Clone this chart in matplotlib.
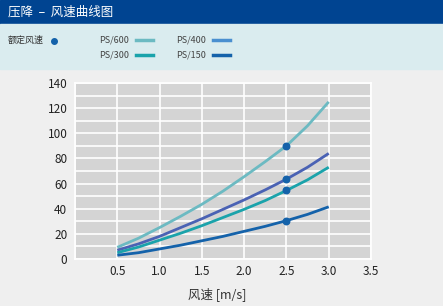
import matplotlib
matplotlib.use("Agg")
import matplotlib.pyplot as plt

plt.rcParams["font.family"] = ["Noto Sans CJK SC", "DejaVu Sans"]

title = "压降  –  风速曲线图"
rated_label = "额定风速"
x_label = "风速 [m/s]"

speed = [0.5, 0.75, 1.0, 1.25, 1.5, 1.75, 2.0, 2.25, 2.5, 2.75, 3.0]
ps600 = [9.3, 16.5, 25, 34, 43.5, 54, 65.5, 77.5, 90, 106, 125]
ps400 = [7, 12, 18, 25, 32, 39.5, 47, 55, 63.5, 73, 84]
ps300 = [5, 9.5, 15, 20.5, 26.5, 33, 39.5, 46.5, 54.5, 63, 73]
ps150 = [3, 5, 8, 11, 14.5, 18, 22, 26, 30.5, 35.5, 41.5]

rated_speed = 2.5
rated_drop = [90, 63.5, 54.5, 30.5]

series = [
    ("PS/600", ps600, "#6cbac2", "#6cbac2"),
    ("PS/400", ps400, "#4a62b4", "#4a8fd0"),
    ("PS/300", ps300, "#1aa3ab", "#1aa3ab"),
    ("PS/150", ps150, "#1462aa", "#1462aa"),
]

fig = plt.figure(figsize=(4.43, 3.06), dpi=100, facecolor="#efefef")

# header bar and legend band
fig.patches.append(plt.Rectangle((0, 1 - 24 / 306), 1, 24 / 306,
                                 transform=fig.transFigure, color="#004491", zorder=0))
fig.patches.append(plt.Rectangle((0, 1 - 69 / 306), 1, 45 / 306,
                                 transform=fig.transFigure, color="#daecef", zorder=0))
fig.text(8 / 443, 1 - 12.5 / 306, title, color="white", fontsize=9, va="center")

ax = fig.add_axes([75 / 443, 47 / 306, 296 / 443, 176 / 306])
ax.set_facecolor("#d4d4d4")
for name, vals, color, _ in series:
    ax.plot(speed, vals, color=color, lw=2, solid_capstyle="butt", zorder=3)
ax.scatter([rated_speed] * len(rated_drop), rated_drop, s=22, color="#1462aa", zorder=4)

ax.set_xlim(0, 3.5)
ax.set_ylim(0, 140)
ax.set_xticks([0, 0.5, 1.0, 1.5, 2.0, 2.5, 3.0, 3.5])
ax.set_xticklabels(["", "0.5", "1.0", "1.5", "2.0", "2.5", "3.0", "3.5"])
ax.set_yticks(range(0, 141, 20))
ax.set_yticks(range(0, 141, 10), minor=True)
ax.grid(True, which="both", color="white", lw=1.2)
ax.set_axisbelow(True)
ax.tick_params(which="both", length=0, labelsize=8.5, colors="#222222")
ax.tick_params(axis="y", pad=5.5)
ax.tick_params(axis="x", pad=4)
for s in ax.spines.values():
    s.set_color("white")
    s.set_linewidth(1.2)
ax.set_xlabel(x_label, fontsize=9, color="#333333", labelpad=7)
ax.xaxis.set_label_coords(0.48, -0.16)

# legend
fig.text(8 / 443, 1 - 40 / 306, rated_label, fontsize=6.5, color="#333333", va="center")
fig.lines.append(plt.Line2D([54 / 443], [1 - 40.5 / 306], marker="o", ms=4,
                            color="#1462aa", transform=fig.transFigure))
pos = [(99, 40), (176, 40), (99, 55), (176, 55)]
for (name, _, _, lcolor), (px, py) in zip(series, pos):
    fig.text(px / 443, 1 - py / 306, name, fontsize=6.5, color="#444444", va="center")
    fig.lines.append(plt.Line2D([(px + 37) / 443, (px + 54) / 443],
                                [1 - (py - 0.5) / 306] * 2, lw=2.5, color=lcolor,
                                transform=fig.transFigure))

fig.savefig("out.png", dpi=100, facecolor=fig.get_facecolor())
